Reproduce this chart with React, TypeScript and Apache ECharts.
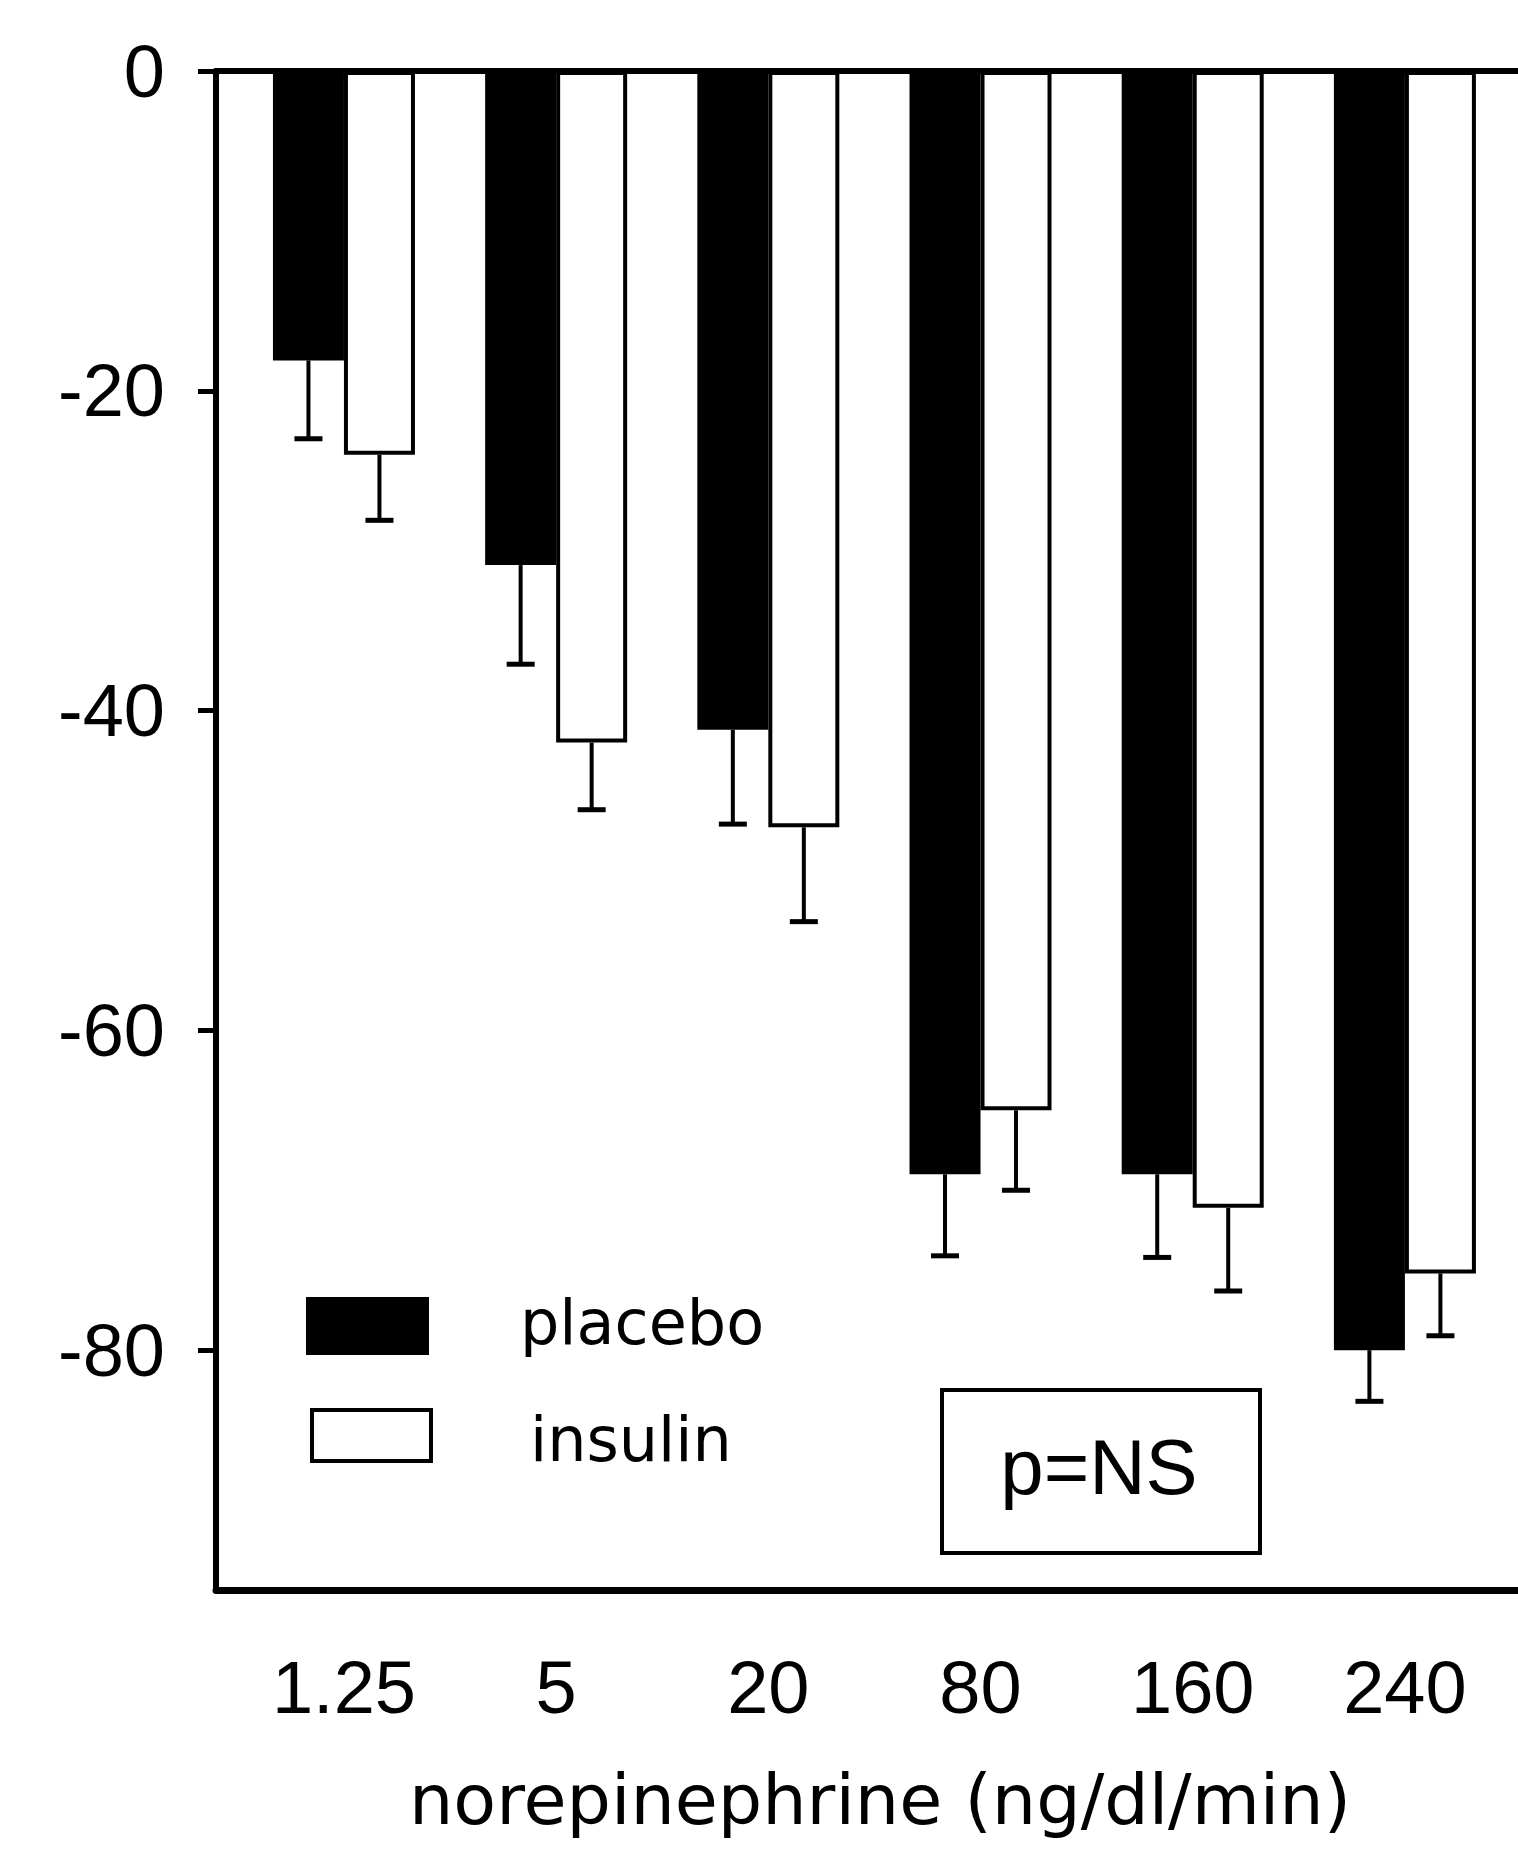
import React, { useEffect, useRef } from "react";
import * as echarts from "echarts";

const categories = ["1.25", "5", "20", "80", "160", "240"];
const placebo = [-18.1, -30.9, -41.2, -69.0, -69.0, -80.0];
const insulin = [-24.0, -42.0, -47.3, -65.0, -71.1, -75.2];
const placeboErr = [4.9, 6.2, 5.9, 5.1, 5.2, 3.2];
const insulinErr = [4.1, 4.2, 5.9, 5.0, 5.2, 3.9];
const yTicks = [0, -20, -40, -60, -80];
const seriesNames = ["placebo", "insulin"];
const xTitle = "norepinephrine (ng/dl/min)";
const note = "p=NS";

const BAR_W = 71;
const AXIS_FONT = "Liberation Sans, Arial, sans-serif";
const TEXT_FONT = "DejaVu Sans, sans-serif";

function errorSeries(values: number[], errs: number[], offset: number) {
  return {
    type: "custom",
    z: 5,
    xAxisIndex: 0,
    yAxisIndex: 0,
    data: values.map((v, i) => [i + 1, v, errs[i]]),
    renderItem: (_params: any, api: any) => {
      const x = api.value(0);
      const v = api.value(1);
      const e = api.value(2);
      const top = api.coord([x, v]);
      const bot = api.coord([x, v - e]);
      const cx = top[0] + offset;
      return {
        type: "group",
        children: [
          {
            type: "line",
            shape: { x1: cx, y1: top[1], x2: cx, y2: bot[1] },
            style: { stroke: "#000", lineWidth: 4 },
          },
          {
            type: "line",
            shape: { x1: cx - 14, y1: bot[1], x2: cx + 14, y2: bot[1] },
            style: { stroke: "#000", lineWidth: 5 },
          },
        ],
      };
    },
  };
}

export default function App() {
  const ref = useRef<HTMLDivElement>(null);
  useEffect(() => {
    if (!ref.current) return;
    const chart = echarts.init(ref.current, undefined, { renderer: "svg" });
    const xMin = 0.397;
    const xMax = 6.533;
    chart.setOption({
      animation: false,
      backgroundColor: "#fff",
      grid: {
        left: 216,
        right: 0,
        top: 71,
        bottom: 261,
        containLabel: false,
        outerBoundsMode: "none",
      },
      xAxis: [
        {
          type: "value",
          min: xMin,
          max: xMax,
          position: "bottom",
          splitLine: { show: false },
          axisLine: { show: true, onZero: false, lineStyle: { color: "#000", width: 7 } },
          axisTick: { show: false },
          axisLabel: {
            customValues: categories.map((_, i) => i + 1),
            formatter: (v: number) => categories[Math.round(v) - 1] ?? "",
            fontFamily: AXIS_FONT,
            fontSize: 74,
            color: "#000",
            margin: 60,
          },
        },
        {
          type: "value",
          min: xMin,
          max: xMax,
          position: "top",
          splitLine: { show: false },
          axisLine: { show: true, onZero: false, lineStyle: { color: "#000", width: 6 } },
          axisTick: { show: false },
          axisLabel: { show: false },
        },
      ],
      yAxis: {
        type: "value",
        min: -95,
        max: 0,
        splitLine: { show: false },
        axisLine: { show: true, onZero: false, lineStyle: { color: "#000", width: 6 } },
        axisTick: {
          show: true,
          length: 18,
          customValues: yTicks,
          lineStyle: { color: "#000", width: 5 },
        },
        axisLabel: {
          customValues: yTicks,
          fontFamily: AXIS_FONT,
          fontSize: 74,
          color: "#000",
          margin: 51,
          padding: [20, 0, 0, 0],
        },
      },
      series: [
        {
          name: seriesNames[0],
          type: "bar",
          xAxisIndex: 0,
          barWidth: BAR_W,
          barGap: "0%",
          data: placebo.map((v, i) => [i + 1, v]),
          itemStyle: { color: "#000", borderColor: "#000", borderWidth: 2 },
        },
        {
          name: seriesNames[1],
          type: "bar",
          xAxisIndex: 0,
          barWidth: BAR_W,
          barGap: "0%",
          data: insulin.map((v, i) => [i + 1, v]),
          itemStyle: { color: "#fff", borderColor: "#000", borderWidth: 4 },
        },
        errorSeries(placebo, placeboErr, -BAR_W / 2),
        errorSeries(insulin, insulinErr, BAR_W / 2),
      ],
      graphic: [
        {
          type: "rect",
          shape: { x: 307, y: 1298, width: 121, height: 56 },
          style: { fill: "#000", stroke: "#000", lineWidth: 2 },
        },
        {
          type: "rect",
          shape: { x: 312, y: 1410, width: 119, height: 51 },
          style: { fill: "#fff", stroke: "#000", lineWidth: 4 },
        },
        {
          type: "text",
          x: 520,
          y: 1322,
          style: {
            text: seriesNames[0],
            font: `62px ${TEXT_FONT}`,
            fill: "#000",
            textAlign: "left",
            textVerticalAlign: "middle",
          },
        },
        {
          type: "text",
          x: 530,
          y: 1439,
          style: {
            text: seriesNames[1],
            font: `62px ${TEXT_FONT}`,
            fill: "#000",
            textAlign: "left",
            textVerticalAlign: "middle",
          },
        },
        {
          type: "rect",
          shape: { x: 942, y: 1390, width: 318, height: 163 },
          style: { fill: "none", stroke: "#000", lineWidth: 4 },
        },
        {
          type: "text",
          x: 1099,
          y: 1467,
          style: {
            text: note,
            font: `78px ${AXIS_FONT}`,
            fill: "#000",
            textAlign: "center",
            textVerticalAlign: "middle",
          },
        },
        {
          type: "text",
          x: 880,
          y: 1800,
          style: {
            text: xTitle,
            font: `70px ${TEXT_FONT}`,
            fill: "#000",
            textAlign: "center",
            textVerticalAlign: "middle",
          },
        },
      ],
    });
    return () => chart.dispose();
  }, []);
  return (
    <div
      ref={ref}
      style={{ position: "absolute", left: 0, top: 0, width: 1518, height: 1851 }}
    />
  );
}
